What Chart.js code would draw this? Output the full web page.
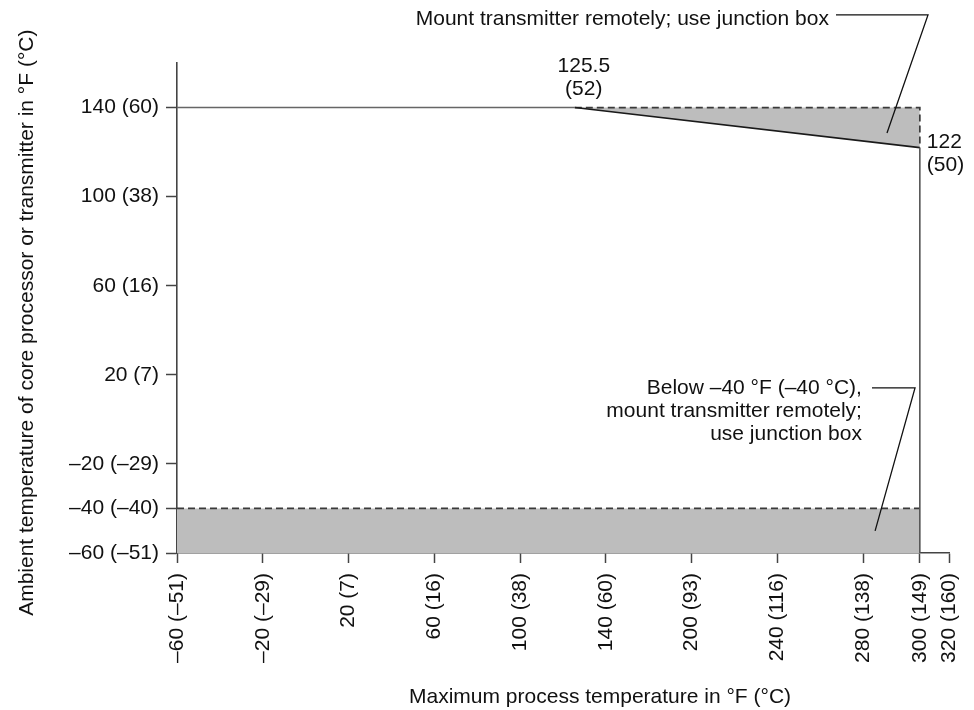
<!DOCTYPE html>
<html>
<head>
<meta charset="utf-8">
<script src="https://cdn.jsdelivr.net/npm/chart.js@4/dist/chart.umd.min.js"></script>
<style>
html,body{margin:0;padding:0;background:#fff;}
canvas{display:block;}
</style>
</head>
<body>
<canvas id="c" width="974" height="710"></canvas>
<script>
// ---------------- data ----------------
const xTickValues = [-60, -20, 20, 60, 100, 140, 200, 240, 280, 300, 320];
const xTickLabels = ['–60 (–51)', '–20 (–29)', '20 (7)', '60 (16)', '100 (38)', '140 (60)', '200 (93)', '240 (116)', '280 (138)', '300 (149)', '320 (160)'];
const yTickValues = [140, 100, 60, 20, -20, -40, -60];
const yTickLabels = ['140 (60)', '100 (38)', '60 (16)', '20 (7)', '–20 (–29)', '–40 (–40)', '–60 (–51)'];

// limit line: max ambient vs max process temperature (°F)
const limitProcessF = [-60, 125.5, 300, 300];
const limitAmbientF = [140, 140, 122, -60];

// upper remote-mount zone boundary (dashed)
const upperZoneProcessF = [125.5, 300, 300];
const upperZoneAmbientF = [140, 140, 122];

// lower remote-mount zone (below -40 °F)
const lowerZoneProcessF = [-60, 300];
const lowerZoneAmbientF = [-40, -40];

// labels at limit-line break points (index into limit arrays)
const breakLabelIndex = [1, 2];
const breakLabels = [['125.5', '(52)'], ['122', '(50)']];

// callout notes
const noteTexts = [
  ['Mount transmitter remotely; use junction box'],
  ['Below –40 °F (–40 °C),', 'mount transmitter remotely;', 'use junction box']
];
const noteAnchors = [[264, 177.1], [279.4, 11.4]];           // text right edge / first baseline (°F, °F)
const noteLeaders = [
  [[267.3, 181.6], [305.6, 181.6], [288.4, 128.6]],
  [[283.1, 14.1], [298.3, 14.1], [284.2, -50.1]]
];

const xTitle = 'Maximum process temperature in °F (°C)';
const yTitle = 'Ambient temperature of core processor or transmitter in °F (°C)';

// ---------------- styling ----------------
const FONT = '"Liberation Sans", Arial, Helvetica, sans-serif';
const FS = 21;
const AXIS = '#444';
const FILL = '#bdbdbd';

const pts = (xs, ys) => xs.map((x, i) => ({x, y: ys[i]}));

// schematic (piecewise) axis: ticks drawn at the spacing used by the original figure
class SchematicScale extends Chart.LinearScale {
  _toSlot(v) {
    const k = this.options.knots, s = this.options.slots;
    let i = 0;
    while (i < k.length - 2 && v > k[i + 1]) i++;
    return s[i] + (v - k[i]) / (k[i + 1] - k[i]) * (s[i + 1] - s[i]);
  }
  _fromSlot(t) {
    const k = this.options.knots, s = this.options.slots;
    let i = 0;
    while (i < s.length - 2 && t > s[i + 1]) i++;
    return k[i] + (t - s[i]) / (s[i + 1] - s[i]) * (k[i + 1] - k[i]);
  }
  getPixelForValue(v) {
    if (v === null || v === undefined || isNaN(v)) return NaN;
    const s = this.options.slots;
    return this.getPixelForDecimal((this._toSlot(v) - s[0]) / (s[s.length - 1] - s[0]));
  }
  getValueForPixel(p) {
    const s = this.options.slots;
    return this._fromSlot(s[0] + this.getDecimalForPixel(p) * (s[s.length - 1] - s[0]));
  }
}
SchematicScale.id = 'schematic';
SchematicScale.defaults = Chart.LinearScale.defaults;
Chart.register(SchematicScale);

const annotPlugin = {
  id: 'annot',
  afterDatasetsDraw(chart) {
    const {ctx} = chart;
    const x = chart.scales.x, y = chart.scales.y;
    ctx.save();
    ctx.font = FS + 'px ' + FONT;
    ctx.fillStyle = '#111';
    ctx.textBaseline = 'alphabetic';
    // break-point labels
    const meta = chart.getDatasetMeta(3);
    breakLabelIndex.forEach((idx, n) => {
      const p = meta.data[idx];
      const lines = breakLabels[n];
      if (n === 0) {
        ctx.textAlign = 'center';
        ctx.fillText(lines[0], p.x + 9, p.y - 35.5);
        ctx.fillText(lines[1], p.x + 9, p.y - 12.5);
      } else {
        ctx.textAlign = 'left';
        ctx.fillText(lines[0], p.x + 7, p.y + 0.5);
        ctx.fillText(lines[1], p.x + 7, p.y + 23.5);
      }
    });
    // notes
    ctx.textAlign = 'right';
    noteTexts.forEach((lines, n) => {
      const ax = x.getPixelForValue(noteAnchors[n][0]);
      const ay = y.getPixelForValue(noteAnchors[n][1]);
      lines.forEach((t, i) => ctx.fillText(t, ax, ay + i * 23));
    });
    // leader lines
    ctx.strokeStyle = '#111';
    ctx.lineWidth = 1.3;
    noteLeaders.forEach(l => {
      ctx.beginPath();
      l.forEach((q, i) => {
        const px = x.getPixelForValue(q[0]), py = y.getPixelForValue(q[1]);
        if (i === 0) ctx.moveTo(px, py); else ctx.lineTo(px, py);
      });
      ctx.stroke();
    });
    // axis titles (placed as in the original figure)
    ctx.textAlign = 'center';
    ctx.fillText(xTitle, x.left + (x.right - x.left) * 0.548, 703);
    ctx.save();
    ctx.translate(33, y.top + (y.bottom - y.top) * 0.53);
    ctx.rotate(-Math.PI / 2);
    ctx.fillText(yTitle, 0, 0);
    ctx.restore();
    ctx.restore();
  }
};

new Chart(document.getElementById('c'), {
  type: 'line',
  data: {
    datasets: [
      { // upper shaded zone (between limit slope and 140 °F)
        data: pts(limitProcessF.slice(1, 3), limitAmbientF.slice(1, 3)),
        borderWidth: 0, pointRadius: 0, borderColor: 'rgba(0,0,0,0)',
        backgroundColor: FILL, fill: {value: upperZoneAmbientF[0]}, order: 4
      },
      { // upper zone dashed boundary
        data: pts(upperZoneProcessF, upperZoneAmbientF),
        borderColor: '#3a3a3a', borderWidth: 1.7, borderDash: [7, 4], pointRadius: 0,
        fill: false, order: 3
      },
      { // lower zone
        data: pts(lowerZoneProcessF, lowerZoneAmbientF),
        borderColor: '#3a3a3a', borderWidth: 1.7, borderDash: [7, 4], pointRadius: 0,
        backgroundColor: FILL, fill: 'start', order: 2
      },
      { // limit line
        data: pts(limitProcessF, limitAmbientF),
        borderWidth: 1.6, pointRadius: 0, fill: false, order: 1,
        borderColor: '#222',
        segment: {
          borderColor: c => c.p0DataIndex === 0 ? '#666' : (c.p0DataIndex === 2 ? '#555' : '#1a1a1a')
        }
      }
    ]
  },
  options: {
    responsive: false,
    animation: false,
    devicePixelRatio: 1,
    layout: {padding: {left: 0, top: 63, right: 25, bottom: 0}},
    plugins: {legend: {display: false}, tooltip: {enabled: false}},
    scales: {
      x: {
        type: 'schematic',
        knots: xTickValues,
        slots: [0, 1, 2, 3, 4, 5, 6, 7, 8, 8.66, 9],
        min: -60, max: 320,
        afterBuildTicks: s => { s.ticks = xTickValues.map(v => ({value: v})); },
        afterFit: s => { s.height = 157; s.paddingLeft = 0; s.paddingRight = 0; },
        ticks: {
          autoSkip: false, minRotation: 90, maxRotation: 90, padding: 10,
          color: '#111', font: {family: FONT, size: FS},
          callback: v => xTickLabels[xTickValues.indexOf(v)]
        },
        grid: {drawOnChartArea: false, drawTicks: true, tickLength: 10, tickColor: AXIS, tickWidth: 1.5},
        border: {display: true, color: AXIS, width: 1.6},
        title: {display: false, text: xTitle}
      },
      y: {
        type: 'linear',
        min: -60, max: 160,
        afterBuildTicks: s => { s.ticks = yTickValues.map(v => ({value: v})); },
        afterFit: s => { s.width = 177; s.paddingTop = 0; s.paddingBottom = 0; },
        ticks: {
          autoSkip: false, padding: 7, color: '#111', font: {family: FONT, size: FS},
          callback: v => yTickLabels[yTickValues.indexOf(v)]
        },
        grid: {drawOnChartArea: false, drawTicks: true, tickLength: 11, tickColor: AXIS, tickWidth: 1.5},
        border: {display: true, color: AXIS, width: 1.6},
        title: {display: false, text: yTitle}
      }
    }
  },
  plugins: [annotPlugin]
});
</script>
</body>
</html>
